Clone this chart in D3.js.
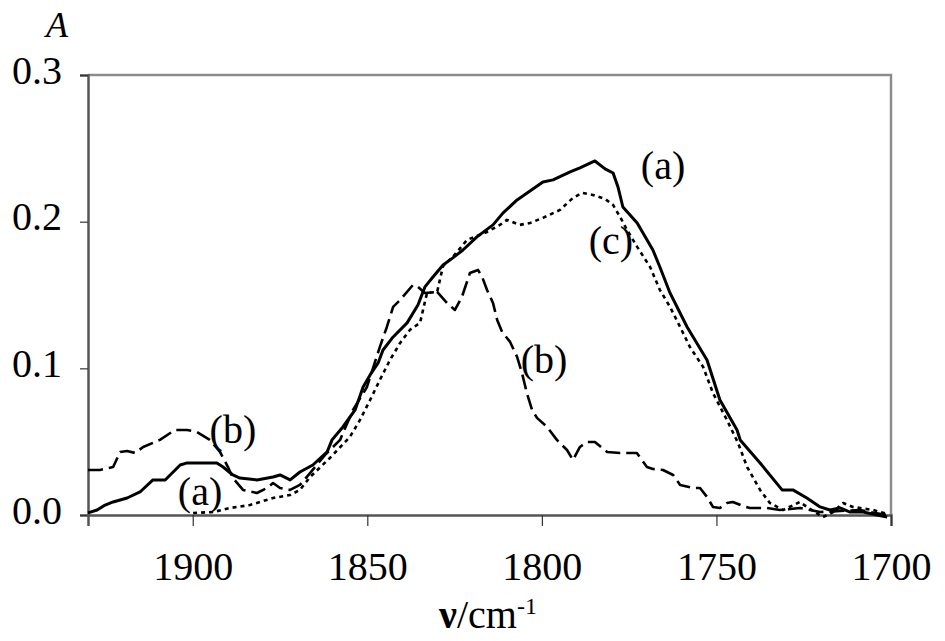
<!DOCTYPE html>
<html>
<head>
<meta charset="utf-8">
<script src="https://cdn.jsdelivr.net/npm/d3@7"></script>
<style>
  body { margin: 0; background: white; }
  text { font-family: "Liberation Serif", "Times New Roman", serif; fill: black; }
</style>
</head>
<body>
<script>
// ------------------------------------------------ Data ------------------------------------------------ //
// [wavenumber (cm-1), absorbance]
var curve_a = [
  [1930,0.0014],[1927.4,0.0034],[1925.1,0.0068],[1922.8,0.0089],[1918.8,0.0116],[1915.1,0.0157],
  [1911.4,0.0239],[1907.9,0.0239],[1903.6,0.0341],[1901.6,0.0355],[1893.1,0.0355],[1891.3,0.0327],
  [1888.5,0.0273],[1886.5,0.0252],[1881.6,0.0239],[1877,0.0259],[1875,0.0273],[1872.1,0.0239],
  [1869.3,0.0293],[1865.6,0.0341],[1861.5,0.043],[1860.1,0.0512],[1857,0.06],[1853.5,0.0716],
  [1851.2,0.0873],[1849.2,0.0955],[1846.9,0.1037],[1845.5,0.1125],[1842.6,0.1214],[1838.6,0.131],
  [1835.5,0.1432],[1833.5,0.1555],[1831.2,0.1623],[1828.3,0.1705],[1825.5,0.1753],[1822.6,0.1807],
  [1818.6,0.1896],[1814,0.1978],[1811.1,0.206],[1807.1,0.2148],[1799.7,0.2271],[1796.8,0.2285],
  [1791.9,0.2339],[1789.1,0.2367],[1784.8,0.2414],[1781.9,0.236],[1779.6,0.2332],[1778.2,0.2237],
  [1776.8,0.21],[1772.7,0.1991],[1768.2,0.1807],[1766.2,0.1691],[1763.3,0.1514],[1758.4,0.1282],
  [1752.7,0.1057],[1749,0.0784],[1744.1,0.058],[1743.2,0.0512],[1737.5,0.0355],[1731.2,0.0171],
  [1728.1,0.0171],[1724.1,0.0116],[1720.3,0.0055],[1717.5,0.0034],[1714.6,0.0048],[1711.7,0.002],
  [1708,0.002],[1704,0],[1701.1,-0.0014]
];
var curve_b = [
  [1930,0.0307],[1926.6,0.0307],[1922.8,0.0327],[1920.8,0.043],[1918.8,0.0436],[1916.5,0.0423],
  [1914.2,0.0464],[1909.4,0.0512],[1905.1,0.058],[1901.6,0.058],[1898.8,0.0566],[1895.1,0.0512],
  [1892.2,0.043],[1889.9,0.0327],[1888.5,0.0252],[1885.6,0.0171],[1881.6,0.015],[1878.7,0.0184],
  [1877,0.0218],[1875,0.0184],[1872.1,0.0171],[1869.3,0.0205],[1866.4,0.0286],[1862.1,0.041],
  [1857.8,0.0512],[1854.1,0.0716],[1850.1,0.0873],[1846.4,0.1146],[1844.4,0.1282],[1842.6,0.1419],
  [1840.6,0.1466],[1836.9,0.1569],[1835.5,0.1555],[1833.5,0.1514],[1830,0.1521],[1827.2,0.1446],
  [1824.9,0.1398],[1822.9,0.1487],[1820.6,0.165],[1818.3,0.1671],[1817.1,0.1623],[1815.7,0.1534],
  [1814,0.1446],[1812.8,0.133],[1811.4,0.1248],[1809.1,0.118],[1807.1,0.1078],[1805.7,0.0968],
  [1804.3,0.0832],[1802.8,0.0716],[1801.4,0.0662],[1798.5,0.06],[1795.7,0.0512],[1792.8,0.0443],
  [1791.1,0.0375],[1789.1,0.0464],[1787.1,0.0498],[1784.8,0.0498],[1781.3,0.043],[1777.6,0.0423],
  [1772.8,0.0423],[1769.9,0.0327],[1768.2,0.0314],[1765.3,0.0307],[1762.4,0.0273],[1760.4,0.0205],
  [1756.7,0.0184],[1754.7,0.0184],[1752.7,0.0123],[1751,0.0055],[1749,0.0048],[1747,0.0082],
  [1745.3,0.0089],[1742.4,0.0061],[1740.4,0.0048],[1735.5,0.0048],[1731.8,0.0034],[1726.1,0.0048],
  [1720.3,0.002],[1714.6,0.0027],[1708.9,0.0034],[1704.6,0.0014],[1701.1,0]
];
var curve_c = [
  [1899.9,0.0014],[1894.2,0.002],[1889.3,0.0048],[1883.6,0.0068],[1877,0.0116],[1872.1,0.0136],
  [1869.3,0.0171],[1866.4,0.0259],[1860.7,0.0389],[1855,0.0532],[1852.1,0.0648],[1849.2,0.0784],
  [1846.4,0.0921],[1843.5,0.1057],[1840.6,0.1173],[1837.8,0.1262],[1834.9,0.131],[1832.9,0.1514],
  [1830,0.1521],[1828.3,0.1698],[1825.5,0.176],[1821.4,0.1876],[1815.7,0.193],[1812,0.1978],
  [1810,0.2012],[1806.3,0.1978],[1803.4,0.1991],[1799.7,0.2026],[1794.8,0.208],[1791.1,0.2162],
  [1788.5,0.2196],[1785.4,0.2182],[1781.9,0.2155],[1779.6,0.2114],[1777.6,0.2032],[1775.6,0.1944],
  [1772.7,0.1828],[1769,0.1691],[1766.2,0.1535],[1763.3,0.1419],[1760.4,0.1282],[1757.6,0.1146],
  [1753.8,0.1009],[1751,0.0832],[1747,0.0648],[1743.8,0.0491],[1741.2,0.0327],[1737.5,0.0171],
  [1734.7,0.0082],[1730.9,0.0034],[1726.1,0.0089],[1724.1,0.0055],[1719.5,-0.0014],[1716.6,0.002],
  [1713.7,0.0082],[1710.9,0.0055],[1705.1,0.0034],[1701.1,0.0007]
];

var x_ticks = [1900, 1850, 1800, 1750, 1700];
var y_ticks = [0.0, 0.1, 0.2, 0.3];

// curve labels: text, wavenumber, absorbance (centre of label)
var labels = [
  ["(a)", 1765.3, 0.238],
  ["(c)", 1780.2, 0.187],
  ["(b)", 1799.4, 0.106],
  ["(b)", 1888.5, 0.058],
  ["(a)", 1897.9, 0.016]
];

// --------------------------------------------- Init SVG ---------------------------------------------- //
var W = 945, H = 641;
var svg = d3.select("body").append("svg")
    .attr("width", W)
    .attr("height", H);

var x = d3.scaleLinear().domain([1930, 1700]).range([88, 891]);
var y = d3.scaleLinear().domain([0, 0.3]).range([515, 75]);

var fs = 40;

// ------------------------------------------------ Frame ---------------------------------------------- //
// top and right border in light grey
svg.append("path")
    .attr("d", "M" + x.range()[0] + "," + y(0.3) + "H" + x.range()[1] + "V" + y(0))
    .attr("fill", "none")
    .attr("stroke", "#8c8c8c")
    .attr("stroke-width", 2.5);

// y axis
var yAxis = svg.append("g")
    .attr("transform", "translate(" + x.range()[0] + ",0)")
    .call(d3.axisLeft(y).tickValues(y_ticks).tickSize(8).tickFormat(d3.format(".1f")));
yAxis.select(".domain").attr("stroke", "#555").attr("stroke-width", 2.5);
yAxis.selectAll(".tick line").attr("stroke", "#333").attr("stroke-width", 1.2);
yAxis.selectAll(".tick text")
    .attr("x", -26)
    .attr("dy", "0.2em")
    .style("font-size", fs + "px")
    .style("font-family", "'Liberation Serif', serif");

// x axis
var xAxis = svg.append("g")
    .attr("transform", "translate(0," + y(0) + ")")
    .call(d3.axisBottom(x).tickValues(x_ticks).tickSize(11).tickFormat(d3.format("d")));
xAxis.select(".domain").attr("stroke", "#555").attr("stroke-width", 2.5);
xAxis.selectAll(".tick line").attr("stroke", "#333").attr("stroke-width", 1.2);
xAxis.selectAll(".tick text")
    .attr("y", 65)
    .attr("dy", 0)
    .style("font-size", fs + "px")
    .style("font-family", "'Liberation Serif', serif");

// axis titles
svg.append("text")
    .attr("x", 57)
    .attr("y", 37)
    .attr("text-anchor", "middle")
    .style("font-size", "36px")
    .style("font-style", "italic")
    .text("A");

var xt = svg.append("text")
    .attr("x", 488)
    .attr("y", 628)
    .attr("text-anchor", "middle")
    .style("font-size", fs + "px");
xt.append("tspan").style("font-weight", "bold").text("ν");
xt.append("tspan").text("/cm");
xt.append("tspan").attr("dy", -14).style("font-size", "24px").text("-1");

// ------------------------------------------------ Curves --------------------------------------------- //
var line = d3.line()
    .x(function(d) { return x(d[0]); })
    .y(function(d) { return y(d[1]); });

var series = [
  {data: curve_b, dash: "15,6", width: 2.6},
  {data: curve_c, dash: "4,4", width: 2.6},
  {data: curve_a, dash: null, width: 3}
];

svg.append("g").selectAll("path")
    .data(series)
    .enter().append("path")
        .attr("d", function(d) { return line(d.data); })
        .attr("fill", "none")
        .attr("stroke", "black")
        .attr("stroke-width", function(d) { return d.width; })
        .attr("stroke-dasharray", function(d) { return d.dash; })
        .attr("stroke-linejoin", "round");

// ------------------------------------------------ Labels --------------------------------------------- //
svg.append("g").selectAll("text")
    .data(labels)
    .enter().append("text")
        .attr("x", function(d) { return x(d[1]); })
        .attr("y", function(d) { return y(d[2]); })
        .attr("dy", "0.33em")
        .attr("text-anchor", "middle")
        .style("font-size", fs + "px")
        .text(function(d) { return d[0]; });
</script>
</body>
</html>
